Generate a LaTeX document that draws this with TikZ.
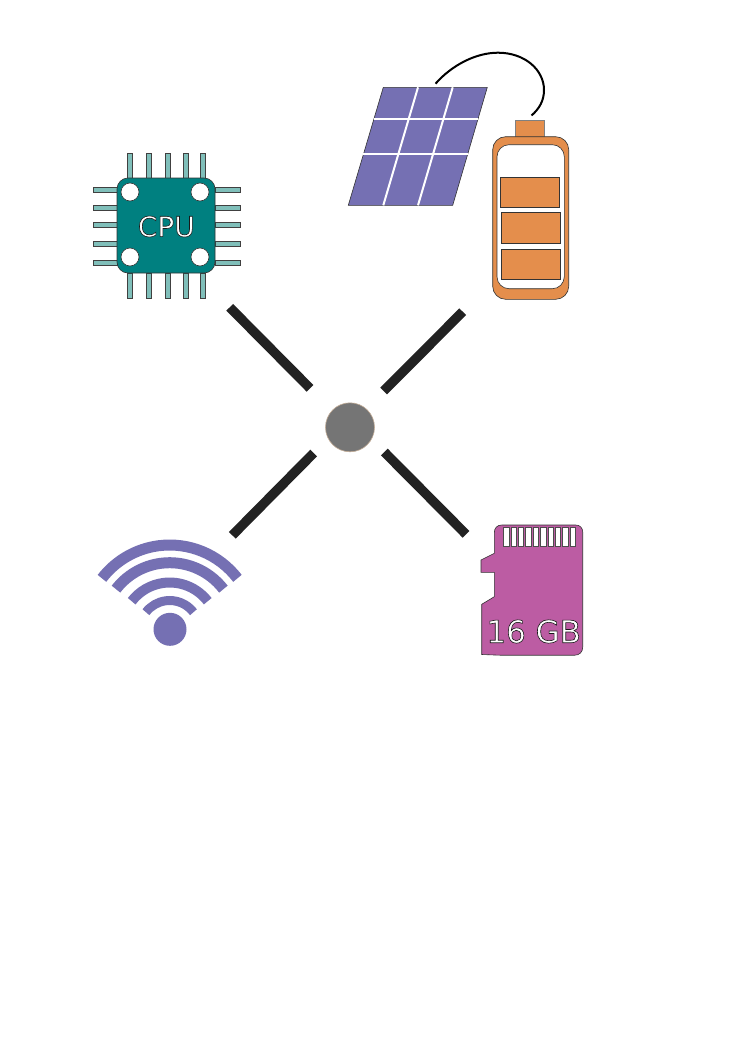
\documentclass[tikz,border=0pt]{standalone}
\usepackage{fontspec}
\setmainfont{DejaVu Sans}
\newcommand\outlinedtext[1]{\special{pdf:code q 2 Tr 0.6 w 0.1 0.1 0.1 RG 1 1 1 rg}#1\special{pdf:code Q}}
\definecolor{tealbody}{HTML}{008080}
\definecolor{tealpin}{HTML}{80BFBA}
\definecolor{purp}{HTML}{7570B3}
\definecolor{orng}{HTML}{E48E4C}
\definecolor{pink}{HTML}{BC5CA3}
\definecolor{barc}{HTML}{222222}
\tikzset{
  pin/.style={draw=black!75,line width=0.6pt,fill=tealpin},
  outline/.style={draw=black!80,line width=0.6pt},
  hub/.style={circle,fill=black!54,draw=black!30!brown!50,line width=0.6pt,minimum size=49pt,inner sep=0pt},
  bar/.style={draw=barc,line width=9.5pt},
  wire/.style={draw=black,line width=2pt},
  gridline/.style={draw=white,line width=2pt},
  wave/.style={draw=purp,line cap=butt},
  cell/.style={outline,fill=orng}
}
\begin{document}
\begin{tikzpicture}[x=1pt,y=-1pt]
\useasboundingbox (0,0) rectangle (744,1052);
\fill[white] (0,0) rectangle (744,1052);
% CPU pins
\foreach \x in {130,149,168,185.5,203}{
  \draw[pin] (\x-2.5,153) rectangle (\x+2.5,178);
  \draw[pin] (\x-2.5,273) rectangle (\x+2.5,298);
}
\foreach \y in {190,208,224.7,244,263}{
  \draw[pin] (93,\y-2.5) rectangle (117,\y+2.5);
  \draw[pin] (215,\y-2.5) rectangle (240,\y+2.5);
}
\draw[outline,fill=tealbody,rounded corners=11pt] (117,178) rectangle (215,273);
\foreach \x/\y in {130/192,200/192,130/257,200/257}
  \draw[outline,fill=white] (\x,\y) circle[radius=9pt];
\node[inner sep=0pt,font=\fontsize{28pt}{28pt}\selectfont] (cpu) at (166.3,226.5) {\outlinedtext{CPU}};
% solar panel
\draw[draw=black!80,line width=0.6pt,fill=purp] (383.3,87.3) -- (487.3,87.3) -- (452.7,205.3) -- (348.3,205.3) -- cycle;
\draw[gridline] (418,87.3) -- (383.3,205.3);
\draw[gridline] (452.7,87.3) -- (418,205.3);
\draw[gridline] (373.6,118.7) -- (478.2,118.7);
\draw[gridline] (363.4,153.7) -- (468,153.7);
% wire
\coordinate (wireA) at (435.5,83.7);
\coordinate (wireB) at (531.5,115.5);
\draw[wire] (wireA) .. controls (452,65) and (476,52.7) .. (498,52.7) .. controls (525,52.7) and (544,70) .. (544,90) .. controls (544,101) and (539,109) .. (wireB);
% battery
\draw[outline,fill=orng,draw=black!50] (515.7,120.3) rectangle (544.3,137);
\draw[outline,fill=orng,rounded corners=13pt] (492.7,136.7) rectangle (568.7,299.3);
\draw[outline,fill=white,rounded corners=12pt] (497,144.7) rectangle (564.3,288.7);
\draw[cell] (500.3,177) rectangle (559.3,207.3);
\draw[cell] (501.3,212.7) rectangle (560,243);
\draw[cell] (501.3,249.3) rectangle (560,279.7);
% hub and bars
\node[hub] (hub) at (350,427.3) {};
\coordinate (tl1) at (229.7,307.3); \coordinate (tl2) at (310,388.3);
\coordinate (tr1) at (462.7,311.7); \coordinate (tr2) at (383.7,391);
\coordinate (bl1) at (313.7,453);   \coordinate (bl2) at (232.3,535.3);
\coordinate (br1) at (384.3,452);   \coordinate (br2) at (466,534.3);
\draw[bar] (tl1) -- (tl2);
\draw[bar] (tr1) -- (tr2);
\draw[bar] (bl1) -- (bl2);
\draw[bar] (br1) -- (br2);
% wifi
\foreach \r/\w in {85.5/11,67.8/11,48/10,30/9}
  \draw[wave,line width=\w pt] ({169.7+\r*cos(37.6)},{630.5-\r*sin(37.6)}) arc[start angle=37.6,end angle=142.4,radius=\r pt];
\fill[purp] (170,629.3) circle[radius=16.5pt];
% SD card
\draw[draw=black!80,line width=0.6pt,fill=pink]
  (494.3,553.3) -- (494.3,533) .. controls (494.3,528) and (497,525) .. (502,525) -- (575.7,525) .. controls (580,525) and (582.7,528) .. (582.7,532) -- (582.7,647) .. controls (582.7,652) and (579.5,655.2) .. (574.7,655.2) -- (500,655.2) -- (481.7,654.5) -- (481.7,604.3) -- (494.3,596.7) -- (494.3,572.3) -- (481,572.3) -- (481,560) -- cycle;
\foreach \i in {0,...,9}
  \draw[draw=black!70,line width=0.4pt,fill=white] ({503.5+7.37*\i},527.5) rectangle ({503.5+7.37*\i+5.4},546.5);
\node[inner sep=0pt,font=\fontsize{31pt}{31pt}\selectfont] (sd) at (533.7,631.5) {\outlinedtext{16 GB}};
\end{tikzpicture}
\end{document}
